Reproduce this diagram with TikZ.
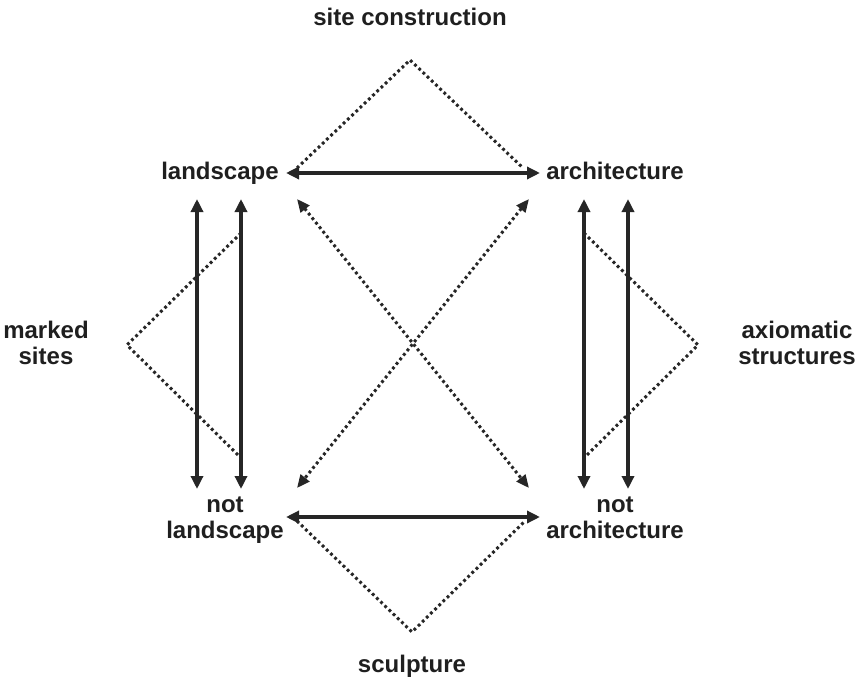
\documentclass[tikz,border=0pt]{standalone}
\usepackage{fontspec}
\setmainfont{Liberation Sans}
\usetikzlibrary{arrows.meta}
\begin{document}
\begin{tikzpicture}[x=1pt,y=-1pt,
  lbl/.style={font=\fontsize{24}{26}\selectfont\bfseries, text=black!88, inner sep=0pt, align=center, anchor=base},
  solidarr/.style={line width=3.4pt, draw=black!85, {Triangle[length=13pt,width=12pt]}-{Triangle[length=13pt,width=12pt]}},
  dotline/.style={line width=3pt, draw=black!85, dash pattern=on 2.8pt off 3pt},
  dotarr/.style={dotline, {Triangle[length=13pt,width=11pt]}-{Triangle[length=13pt,width=11pt]}}]
\useasboundingbox (0,0) rectangle (860,682);
% labels
\node[lbl] (sc) at (410,26) {site construction};
\node[lbl] (land) at (220,180) {landscape};
\node[lbl] (arch) at (615,180) {architecture};
\node[lbl] (ms) at (46,364) {marked\\sites};
\node[lbl] (ax) at (797,364) {axiomatic\\structures};
\node[lbl] (nl) at (225,538) {not\\landscape};
\node[lbl] (na) at (615,538) {not\\architecture};
\node[lbl] (sculp) at (412,672) {sculpture};
% coordinates
\coordinate (tL) at (286,173);
\coordinate (tR) at (540,173);
\coordinate (bL) at (286,517);
\coordinate (bR) at (540,517);
\coordinate (apT) at (410,60);
\coordinate (apB) at (412,632);
\coordinate (apL) at (127,345);
\coordinate (apR) at (698,345);
\coordinate (l1t) at (197,199);
\coordinate (l1b) at (197,489);
\coordinate (l2t) at (241,199);
\coordinate (l2b) at (241,489);
\coordinate (r1t) at (584,199);
\coordinate (r1b) at (584,489);
\coordinate (r2t) at (628,199);
\coordinate (r2b) at (628,489);
\coordinate (d1a) at (297,199);
\coordinate (d1b) at (529,488);
\coordinate (d2a) at (529,199);
\coordinate (d2b) at (297,488);
% dotted triangles
\draw[dotline] (297,168) -- (apT) -- (523,168);
\draw[dotline] (297,521) -- (apB) -- (525,521);
\draw[dotline] (241,233) -- (apL) -- (241,458);
\draw[dotline] (584,233) -- (apR) -- (584,458);
% solid arrows
\draw[solidarr] (tL) -- (tR);
\draw[solidarr] (bL) -- (bR);
\draw[solidarr] (l1t) -- (l1b);
\draw[solidarr] (l2t) -- (l2b);
\draw[solidarr] (r1t) -- (r1b);
\draw[solidarr] (r2t) -- (r2b);
% diagonal dotted arrows
\draw[dotarr] (d1a) -- (d1b);
\draw[dotarr] (d2a) -- (d2b);
\end{tikzpicture}
\end{document}
